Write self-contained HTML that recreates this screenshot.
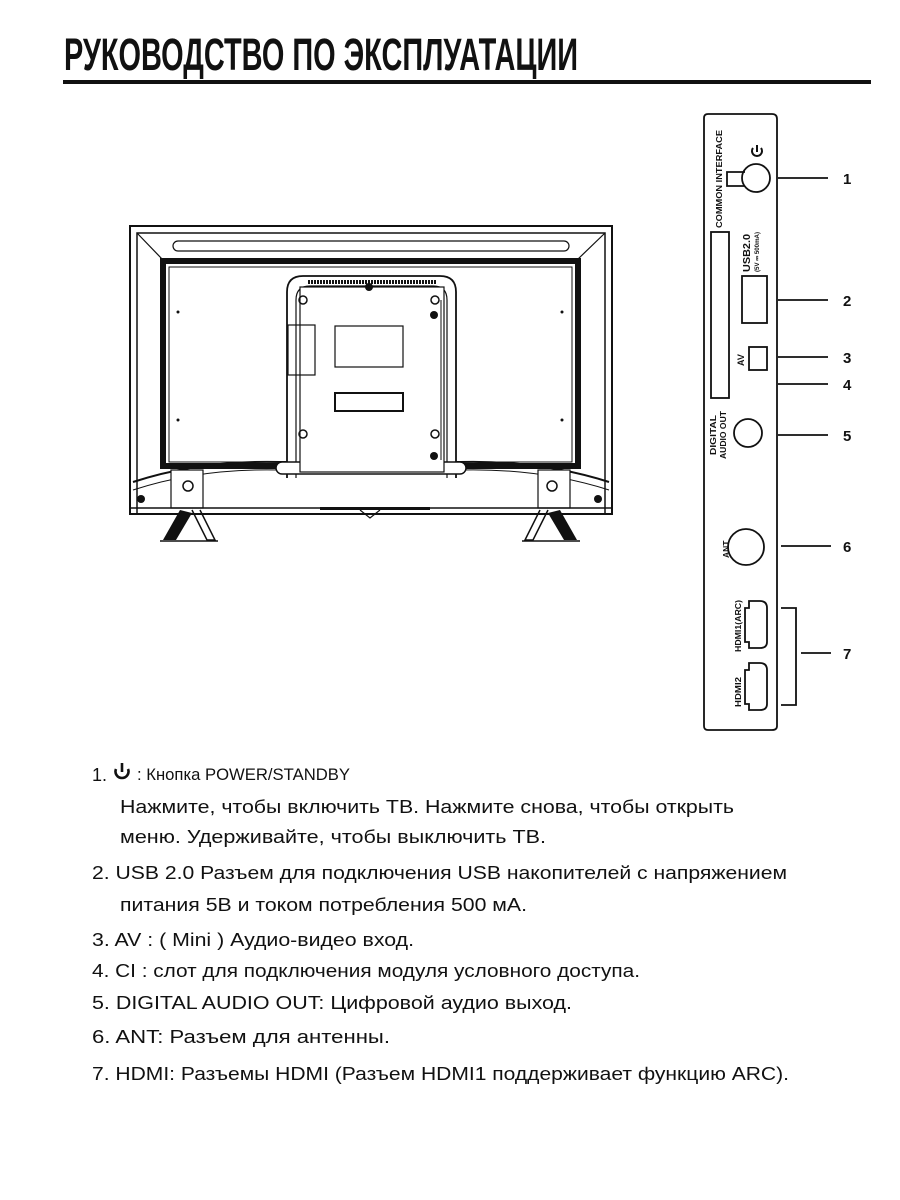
<!DOCTYPE html>
<html><head><meta charset="utf-8"><style>
html,body{margin:0;padding:0;background:#fff;}
svg{display:block;}
.t{font-family:"Liberation Sans",Arial,sans-serif;font-size:18px;fill:#111;}
.s{font-family:"Liberation Sans",Arial,sans-serif;font-weight:bold;fill:#111;}
</style></head><body>
<svg width="900" height="1200" viewBox="0 0 900 1200" xmlns="http://www.w3.org/2000/svg">
<!-- title -->
<text x="64" y="70" font-family="Liberation Sans Narrow,Liberation Sans,sans-serif" font-weight="bold" font-size="45" textLength="514" lengthAdjust="spacingAndGlyphs" fill="#111">РУКОВОДСТВО ПО ЭКСПЛУАТАЦИИ</text>
<rect x="63" y="80" width="808" height="4" fill="#111"/>

<!-- TV -->
<g fill="none" stroke="#111">
<rect x="130" y="226" width="482" height="288" stroke-width="2"/>
<path d="M137 514 V233 H605 V514" stroke-width="1.5"/>
<line x1="137" y1="233" x2="163" y2="260" stroke-width="1.2"/>
<line x1="605" y1="233" x2="577" y2="260" stroke-width="1.2"/>
<rect x="173" y="241" width="396" height="10" rx="5" stroke-width="1.2"/>
<rect x="163" y="261" width="415" height="205" stroke-width="6"/>
<rect x="169" y="267" width="403" height="195" fill="#fff" stroke-width="1"/>
<!-- bottom curve -->
<path d="M133 482 Q200 460 280 462 L460 462 Q540 460 609 482" stroke-width="2"/>
<path d="M133 490 Q200 468 280 470 L460 470 Q540 468 609 490" stroke-width="1"/>
<rect x="171" y="470" width="32" height="38" stroke-width="1.2" fill="#fff"/>
<rect x="538" y="470" width="32" height="38" stroke-width="1.2" fill="#fff"/>
<circle cx="188" cy="486" r="5" stroke-width="1.5"/>
<circle cx="552" cy="486" r="5" stroke-width="1.5"/>
<line x1="130" y1="508" x2="612" y2="508" stroke-width="1.5"/>
<path d="M360 510 L370 518 L380 510" stroke-width="1.2"/>
<!-- back plate -->
<path d="M287 478 V292 Q287 276 303 276 H440 Q456 276 456 292 V478" fill="#fff" stroke-width="1.8"/>
<path d="M296 478 V300 Q296 286 310 286 H433 Q447 286 447 300 V478" stroke-width="1.2"/>
<rect x="276" y="462" width="190" height="12" rx="6" fill="#fff" stroke-width="1.5"/>
<rect x="300" y="287" width="144" height="185" fill="#fff" stroke-width="1.2"/>
<line x1="308" y1="282" x2="436" y2="282" stroke-width="4" stroke-dasharray="2 1"/>
<rect x="335" y="326" width="68" height="41" stroke-width="1.2"/>
<rect x="335" y="393" width="68" height="18" stroke-width="2"/>
<rect x="288" y="325" width="27" height="50" stroke-width="1.2"/>
<circle cx="303" cy="300" r="4" stroke-width="1.5"/><circle cx="435" cy="300" r="4" stroke-width="1.5"/>
<circle cx="303" cy="434" r="4" stroke-width="1.5"/><circle cx="435" cy="434" r="4" stroke-width="1.5"/>
<line x1="441" y1="300" x2="441" y2="460" stroke-width="1"/>
</g>
<g fill="#111">
<circle cx="369" cy="287" r="4"/><circle cx="434" cy="315" r="4"/><circle cx="434" cy="456" r="4"/>
<circle cx="178" cy="312" r="1.5"/><circle cx="178" cy="420" r="1.5"/><circle cx="562" cy="312" r="1.5"/><circle cx="562" cy="420" r="1.5"/>
<circle cx="141" cy="499" r="4"/><circle cx="598" cy="499" r="4"/>
<rect x="320" y="507" width="110" height="3"/>
<path d="M180 510 L163 540 L176 540 L192 513 Z"/>
<path d="M560 510 L577 540 L564 540 L548 513 Z"/>
</g>
<g fill="none" stroke="#111" stroke-width="1.5">
<path d="M192 510 L207 540 L215 540 L200 510"/>
<path d="M548 510 L533 540 L525 540 L540 510"/>
<line x1="160" y1="541" x2="218" y2="541"/><line x1="522" y1="541" x2="580" y2="541"/>
</g>

<!-- panel -->
<g fill="none" stroke="#111" stroke-width="1.8">
<path d="M708 114 H772 Q777 114 777 119 V726 Q777 730 772 730 H708 Q704 730 704 726 V118 Q704 114 708 114 Z"/>
<path d="M745 172 H727 V186 H745"/>
<circle cx="756" cy="178" r="14"/>
<rect x="711" y="232" width="18" height="166"/>
<rect x="742" y="276" width="25" height="47"/>
<rect x="749" y="347" width="18" height="23"/>
<circle cx="748" cy="433" r="14"/>
<circle cx="746" cy="547" r="18"/>
<path d="M749 601 H760 Q767 601 767 608 V642 Q767 648 760 648 H749 V642 H745 V608 H749 Z"/>
<path d="M749 663 H760 Q767 663 767 670 V704 Q767 710 760 710 H749 V704 H745 V670 H749 Z"/>
<line x1="778" y1="178" x2="828" y2="178"/>
<line x1="778" y1="300" x2="828" y2="300"/>
<line x1="778" y1="357" x2="828" y2="357"/>
<line x1="778" y1="384" x2="828" y2="384"/>
<line x1="778" y1="435" x2="828" y2="435"/>
<line x1="781" y1="546" x2="831" y2="546"/>
<path d="M781 608 H796 V705 H781"/>
<line x1="801" y1="653" x2="831" y2="653"/>
<path d="M753 148 A5 5 0 1 0 761 148" stroke-width="2"/>
<line x1="757" y1="145" x2="757" y2="152" stroke-width="2"/>
</g>
<g class="s" font-size="15">
<text x="843" y="184">1</text><text x="843" y="306">2</text><text x="843" y="363">3</text>
<text x="843" y="390">4</text><text x="843" y="441">5</text><text x="843" y="552">6</text><text x="843" y="659">7</text>
</g>
<g class="s" font-size="8.5" font-weight="bold">
<text transform="translate(722,228) rotate(-90)" textLength="98" lengthAdjust="spacingAndGlyphs">COMMON INTERFACE</text>
<text transform="translate(750,272) rotate(-90)" font-size="10" textLength="38" lengthAdjust="spacingAndGlyphs">USB2.0</text>
<text transform="translate(759,272) rotate(-90)" font-size="6" textLength="40" lengthAdjust="spacingAndGlyphs">(5V ⎓ 500mA)</text>
<text transform="translate(744,366) rotate(-90)" font-size="9">AV</text>
<text transform="translate(716,455) rotate(-90)" textLength="40" lengthAdjust="spacingAndGlyphs">DIGITAL</text>
<text transform="translate(726,459) rotate(-90)" textLength="48" lengthAdjust="spacingAndGlyphs">AUDIO OUT</text>
<text transform="translate(729,558) rotate(-90)">ANT</text>
<text transform="translate(741,652) rotate(-90)" textLength="52" lengthAdjust="spacingAndGlyphs">HDMI1(ARC)</text>
<text transform="translate(741,707) rotate(-90)" textLength="30" lengthAdjust="spacingAndGlyphs">HDMI2</text>
</g>

<!-- text -->
<text class="t" x="92" y="781">1.</text>
<g fill="none" stroke="#111" stroke-width="2.6"><path d="M116 769 A6.5 6.5 0 1 0 128 769"/><line x1="122" y1="763" x2="122" y2="772"/></g>
<text x="137" y="780" font-family="Liberation Sans Narrow,Liberation Sans,sans-serif" font-size="17" fill="#111" textLength="213" lengthAdjust="spacingAndGlyphs">: Кнопка POWER/STANDBY</text>
<text class="t" x="120" y="813" textLength="614" lengthAdjust="spacingAndGlyphs">Нажмите, чтобы включить ТВ. Нажмите снова, чтобы  открыть</text>
<text class="t" x="120" y="843" textLength="426" lengthAdjust="spacingAndGlyphs">меню. Удерживайте, чтобы выключить ТВ.</text>
<text class="t" x="92" y="879" textLength="695" lengthAdjust="spacingAndGlyphs">2. USB 2.0 Разъем для подключения USB накопителей с напряжением</text>
<text class="t" x="120" y="911" textLength="407" lengthAdjust="spacingAndGlyphs">питания 5В и током потребления 500 мА.</text>
<text class="t" x="92" y="946" textLength="322" lengthAdjust="spacingAndGlyphs">3. AV : ( Mini )  Аудио-видео вход.</text>
<text class="t" x="92" y="977" textLength="548" lengthAdjust="spacingAndGlyphs">4. CI : слот для подключения модуля условного доступа.</text>
<text class="t" x="92" y="1009" textLength="480" lengthAdjust="spacingAndGlyphs">5. DIGITAL AUDIO OUT:  Цифровой аудио выход.</text>
<text class="t" x="92" y="1043" textLength="298" lengthAdjust="spacingAndGlyphs">6. ANT: Разъем для антенны.</text>
<text class="t" x="92" y="1080" textLength="697" lengthAdjust="spacingAndGlyphs">7. HDMI: Разъемы HDMI (Разъем HDMI1 поддерживает функцию ARC).</text>
</svg>
</body></html>
